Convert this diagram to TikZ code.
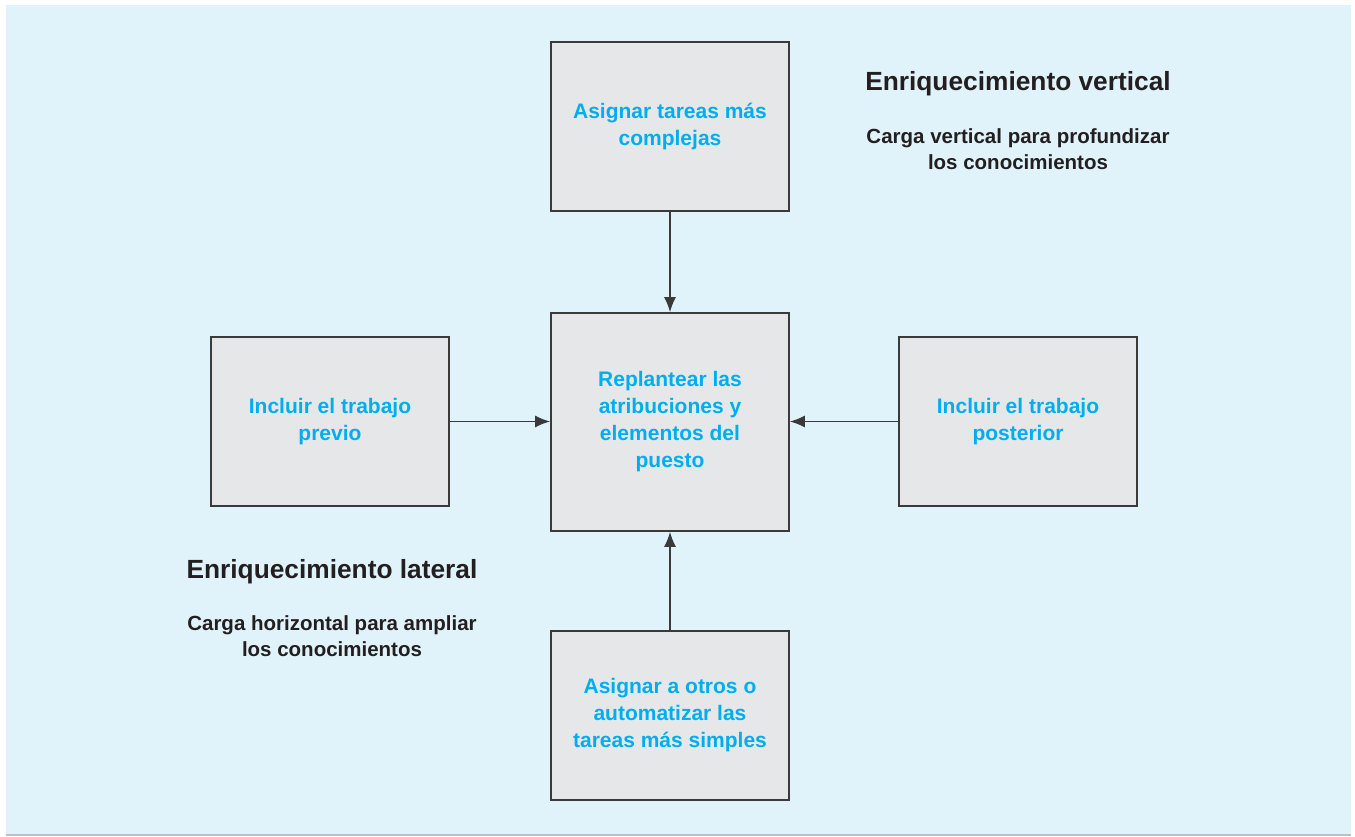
\documentclass[tikz,border=0pt]{standalone}
\usepackage{fontspec}
\setmainfont{Liberation Sans}
\usetikzlibrary{positioning,arrows.meta}
\definecolor{fundo}{HTML}{E0F3FA}
\definecolor{caixa}{HTML}{E6E7E8}
\definecolor{ciano}{HTML}{00AEEF}
\definecolor{borda}{HTML}{3A3A3A}
\definecolor{texto}{HTML}{231F20}

\begin{document}
\begin{tikzpicture}[x=1pt,y=-1pt,
  tarefa/.style={draw=borda,line width=1.6pt,fill=caixa,minimum width=238pt,minimum height=169pt,
    align=center,text=ciano,font=\fontsize{21}{27}\selectfont\bfseries,inner sep=0pt},
  seta/.style={draw=borda,line width=1.6pt,-{Latex[length=15pt,width=12pt]}},
  titulo/.style={text=texto,font=\fontsize{26.3}{30}\selectfont\bfseries},
  nota/.style={text=texto,align=center,font=\fontsize{20.5}{26}\selectfont\bfseries}]
\useasboundingbox (0,0) rectangle (1355,837);
\fill[white] (0,0) rectangle (1355,837);
\fill[fundo] (6,5) rectangle (1351,835);
\draw[black!25,line width=1.5pt] (6,835) -- (1351,835);
% caixas
\node[tarefa] (topo) at (670,126.5) {Asignar tareas más\\complejas};
\node[tarefa,minimum height=218pt] (centro) at (670,422) {Replantear las\\atribuciones y\\elementos del\\puesto};
\node[tarefa] (esq) at (330,421.5) {Incluir el trabajo\\previo};
\node[tarefa] (dir) at (1018,421.5) {Incluir el trabajo\\posterior};
\node[tarefa] (baixo) at (670,715.5) {Asignar a otros o\\automatizar las\\tareas más simples};
% setas
\draw[seta] (topo) -- (centro);
\draw[seta] (esq) -- (esq -| centro.west);
\draw[seta] (dir) -- (dir -| centro.east);
\draw[seta] (baixo) -- (centro);
% textos
\node[titulo] (vert) at (1018,84) {Enriquecimiento vertical};
\node[nota] (vertnota) at (1018,149) {Carga vertical para profundizar\\los conocimientos};
\node[titulo] (lat) at (332,572) {Enriquecimiento lateral};
\node[nota] (latnota) at (332,636) {Carga horizontal para ampliar\\los conocimientos};
\end{tikzpicture}
\end{document}
